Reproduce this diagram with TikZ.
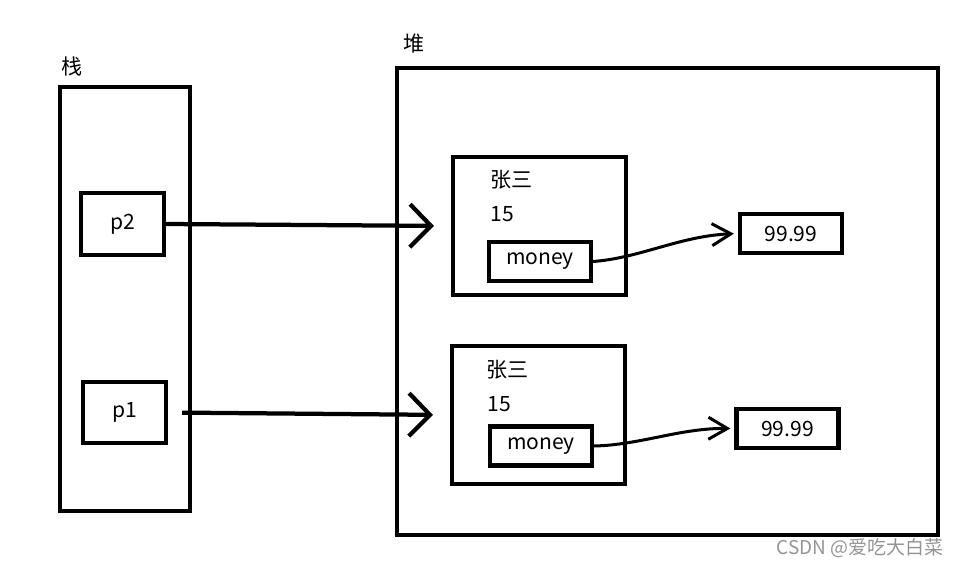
\documentclass[tikz,border=0pt]{standalone}
\usepackage{fontspec}
\setmainfont{Noto Sans CJK SC}
\usetikzlibrary{arrows.meta,positioning}
\tikzstyle{box} = [rectangle, draw=black, line width=0.085cm, inner sep=0cm, text centered, font=\fontsize{12}{14}\selectfont]
\tikzstyle{var} = [box, minimum width=1.66cm, minimum height=1.23cm]
\tikzstyle{obj} = [box, minimum width=3.46cm, minimum height=2.76cm]
\tikzstyle{field} = [box, minimum width=2.04cm, minimum height=0.78cm]
\tikzstyle{txt} = [inner sep=0cm, anchor=west, font=\fontsize{12}{14}\selectfont]
\tikzstyle{arrow} = [line width=0.085cm, -{Straight Barb[length=0.42cm, width=0.86cm]}]
\tikzstyle{ref} = [line width=0.06cm, -{Straight Barb[length=0.38cm, width=0.44cm]}]
\begin{document}
\begin{tikzpicture}[x=0.02cm, y=-0.02cm]
\useasboundingbox (0,0) rectangle (980,567);
% stack
\node (stack) [box, minimum width=2.6cm, minimum height=8.48cm] at (125,299) {};
\node (stackLbl) [txt] at (61,66) {栈};
\node (p2) [var] at (122.5,224) {p2};
\node (p1) [var] at (124.5,412.5) {p1};
% heap
\node (heap) [box, minimum width=10.82cm, minimum height=9.34cm] at (667.5,301.5) {};
\node (heapLbl) [txt] at (403,44) {堆};
\node (obj1) [obj] at (539.5,226) {};
\node (name1) [txt] at (490,180) {张三};
\node (age1) [txt] at (490,214) {15};
\node (money1) [field] at (540,261.5) {money};
\node (val1) [field] at (791,233.5) {99.99};
\node (obj2) [obj] at (538.5,415) {};
\node (name2) [txt] at (486,370) {张三};
\node (age2) [txt] at (487,404) {15};
\node (money2) [field] at (541,446) {money};
\node (val2) [field] at (787.5,428.5) {99.99};
% watermark
\node (mark) [inner sep=0cm, text=black!42, font=\fontsize{10.8}{12}\selectfont] at (860,548) {CSDN @爱吃大白菜};
% references
\draw [arrow, shorten >=0.34cm] (p2.east) -- (obj1.west);
\draw [arrow, shorten <=0.28cm, shorten >=0.34cm] (p1.east) -- (obj2.west);
\draw [ref, shorten >=0.08cm] (money1.east) .. controls (640,258) and (680,236) .. (val1.west);
\draw [ref, shorten >=0.08cm] (money2.east) .. controls (640,445) and (680,428) .. (val2.west);
\end{tikzpicture}
\end{document}
